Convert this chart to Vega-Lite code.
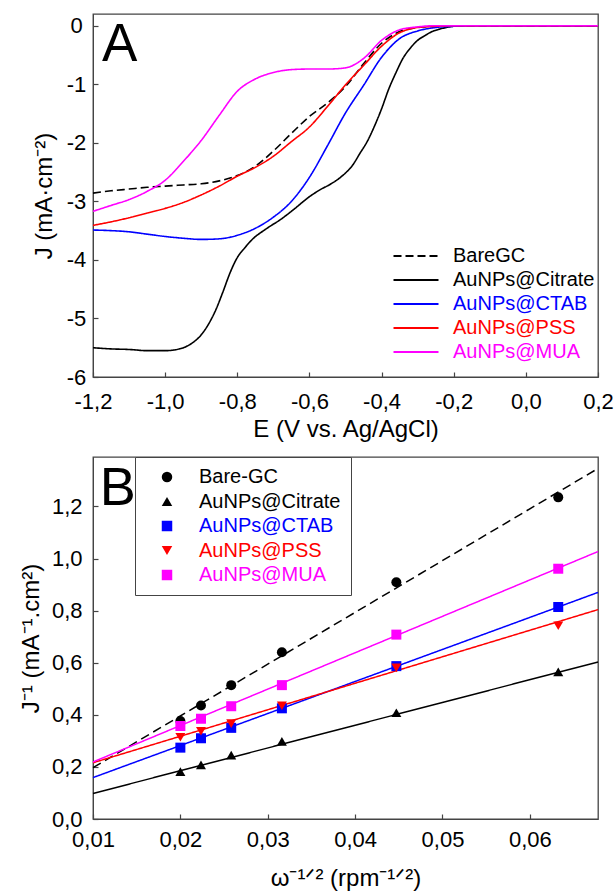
{
  "$schema": "https://vega.github.io/schema/vega-lite/v6.json",
  "padding": {"left": 18, "top": 13, "right": 4, "bottom": 0},
  "spacing": 13,
  "config": {
    "font": "Liberation Sans",
    "view": {"stroke": "#444", "strokeWidth": 1.3},
    "axis": {
      "grid": false, "domainColor": "#444", "tickColor": "#444", "tickSize": -5, "tickWidth": 1.2,
      "labelFont": "Liberation Sans", "labelFontSize": 22, "labelColor": "black", "labelFlush": false, "labelOverlap": false,
      "titleFont": "Liberation Sans", "titleFontSize": 24, "titleFontWeight": "normal", "titleColor": "black"
    },
    "legend": {"labelFont": "Liberation Sans", "labelFontSize": 20}
  },
  "resolve": {"scale": {"color": "independent", "shape": "independent", "strokeDash": "independent"}},
  "datasets": {
    "lsv": [
      {"curve": "BareGC", "E": -1.2, "J": -2.86}, {"curve": "BareGC", "E": -1.15, "J": -2.82}, {"curve": "BareGC", "E": -1.1, "J": -2.79}, {"curve": "BareGC", "E": -1.05, "J": -2.76}, {"curve": "BareGC", "E": -1.0, "J": -2.74}, {"curve": "BareGC", "E": -0.95, "J": -2.72}, {"curve": "BareGC", "E": -0.9, "J": -2.70}, {"curve": "BareGC", "E": -0.85, "J": -2.65}, {"curve": "BareGC", "E": -0.8, "J": -2.56}, {"curve": "BareGC", "E": -0.75, "J": -2.40}, {"curve": "BareGC", "E": -0.7, "J": -2.14}, {"curve": "BareGC", "E": -0.65, "J": -1.84}, {"curve": "BareGC", "E": -0.6, "J": -1.55}, {"curve": "BareGC", "E": -0.55, "J": -1.32}, {"curve": "BareGC", "E": -0.5, "J": -1.04}, {"curve": "BareGC", "E": -0.45, "J": -0.65}, {"curve": "BareGC", "E": -0.4, "J": -0.30}, {"curve": "BareGC", "E": -0.35, "J": -0.10}, {"curve": "BareGC", "E": -0.3, "J": -0.03}, {"curve": "BareGC", "E": -0.25, "J": -0.01}, {"curve": "BareGC", "E": -0.2, "J": 0}, {"curve": "BareGC", "E": 0.2, "J": 0},
      {"curve": "AuNPs@Citrate", "E": -1.2, "J": -5.50}, {"curve": "AuNPs@Citrate", "E": -1.15, "J": -5.52}, {"curve": "AuNPs@Citrate", "E": -1.1, "J": -5.53}, {"curve": "AuNPs@Citrate", "E": -1.05, "J": -5.55}, {"curve": "AuNPs@Citrate", "E": -1.0, "J": -5.55}, {"curve": "AuNPs@Citrate", "E": -0.96, "J": -5.52}, {"curve": "AuNPs@Citrate", "E": -0.93, "J": -5.44}, {"curve": "AuNPs@Citrate", "E": -0.9, "J": -5.28}, {"curve": "AuNPs@Citrate", "E": -0.88, "J": -5.10}, {"curve": "AuNPs@Citrate", "E": -0.86, "J": -4.86}, {"curve": "AuNPs@Citrate", "E": -0.84, "J": -4.55}, {"curve": "AuNPs@Citrate", "E": -0.82, "J": -4.22}, {"curve": "AuNPs@Citrate", "E": -0.8, "J": -3.96}, {"curve": "AuNPs@Citrate", "E": -0.78, "J": -3.80}, {"curve": "AuNPs@Citrate", "E": -0.76, "J": -3.66}, {"curve": "AuNPs@Citrate", "E": -0.72, "J": -3.47}, {"curve": "AuNPs@Citrate", "E": -0.68, "J": -3.31}, {"curve": "AuNPs@Citrate", "E": -0.64, "J": -3.12}, {"curve": "AuNPs@Citrate", "E": -0.6, "J": -2.92}, {"curve": "AuNPs@Citrate", "E": -0.57, "J": -2.80}, {"curve": "AuNPs@Citrate", "E": -0.54, "J": -2.70}, {"curve": "AuNPs@Citrate", "E": -0.51, "J": -2.57}, {"curve": "AuNPs@Citrate", "E": -0.48, "J": -2.38}, {"curve": "AuNPs@Citrate", "E": -0.46, "J": -2.18}, {"curve": "AuNPs@Citrate", "E": -0.44, "J": -1.98}, {"curve": "AuNPs@Citrate", "E": -0.42, "J": -1.72}, {"curve": "AuNPs@Citrate", "E": -0.4, "J": -1.42}, {"curve": "AuNPs@Citrate", "E": -0.38, "J": -1.08}, {"curve": "AuNPs@Citrate", "E": -0.36, "J": -0.80}, {"curve": "AuNPs@Citrate", "E": -0.34, "J": -0.55}, {"curve": "AuNPs@Citrate", "E": -0.32, "J": -0.38}, {"curve": "AuNPs@Citrate", "E": -0.3, "J": -0.25}, {"curve": "AuNPs@Citrate", "E": -0.28, "J": -0.17}, {"curve": "AuNPs@Citrate", "E": -0.26, "J": -0.10}, {"curve": "AuNPs@Citrate", "E": -0.24, "J": -0.06}, {"curve": "AuNPs@Citrate", "E": -0.22, "J": -0.03}, {"curve": "AuNPs@Citrate", "E": -0.2, "J": -0.01}, {"curve": "AuNPs@Citrate", "E": -0.15, "J": 0}, {"curve": "AuNPs@Citrate", "E": 0.2, "J": 0},
      {"curve": "AuNPs@CTAB", "E": -1.2, "J": -3.49}, {"curve": "AuNPs@CTAB", "E": -1.15, "J": -3.50}, {"curve": "AuNPs@CTAB", "E": -1.1, "J": -3.52}, {"curve": "AuNPs@CTAB", "E": -1.05, "J": -3.56}, {"curve": "AuNPs@CTAB", "E": -1.0, "J": -3.60}, {"curve": "AuNPs@CTAB", "E": -0.95, "J": -3.63}, {"curve": "AuNPs@CTAB", "E": -0.9, "J": -3.65}, {"curve": "AuNPs@CTAB", "E": -0.85, "J": -3.64}, {"curve": "AuNPs@CTAB", "E": -0.8, "J": -3.58}, {"curve": "AuNPs@CTAB", "E": -0.75, "J": -3.46}, {"curve": "AuNPs@CTAB", "E": -0.7, "J": -3.27}, {"curve": "AuNPs@CTAB", "E": -0.65, "J": -3.00}, {"curve": "AuNPs@CTAB", "E": -0.6, "J": -2.59}, {"curve": "AuNPs@CTAB", "E": -0.55, "J": -2.05}, {"curve": "AuNPs@CTAB", "E": -0.5, "J": -1.49}, {"curve": "AuNPs@CTAB", "E": -0.45, "J": -1.02}, {"curve": "AuNPs@CTAB", "E": -0.4, "J": -0.54}, {"curve": "AuNPs@CTAB", "E": -0.35, "J": -0.22}, {"curve": "AuNPs@CTAB", "E": -0.3, "J": -0.09}, {"curve": "AuNPs@CTAB", "E": -0.25, "J": -0.03}, {"curve": "AuNPs@CTAB", "E": -0.2, "J": -0.01}, {"curve": "AuNPs@CTAB", "E": -0.15, "J": 0}, {"curve": "AuNPs@CTAB", "E": 0.2, "J": 0},
      {"curve": "AuNPs@PSS", "E": -1.2, "J": -3.41}, {"curve": "AuNPs@PSS", "E": -1.15, "J": -3.35}, {"curve": "AuNPs@PSS", "E": -1.1, "J": -3.28}, {"curve": "AuNPs@PSS", "E": -1.05, "J": -3.20}, {"curve": "AuNPs@PSS", "E": -1.0, "J": -3.12}, {"curve": "AuNPs@PSS", "E": -0.95, "J": -3.02}, {"curve": "AuNPs@PSS", "E": -0.9, "J": -2.89}, {"curve": "AuNPs@PSS", "E": -0.85, "J": -2.74}, {"curve": "AuNPs@PSS", "E": -0.8, "J": -2.57}, {"curve": "AuNPs@PSS", "E": -0.75, "J": -2.42}, {"curve": "AuNPs@PSS", "E": -0.7, "J": -2.23}, {"curve": "AuNPs@PSS", "E": -0.65, "J": -1.98}, {"curve": "AuNPs@PSS", "E": -0.6, "J": -1.73}, {"curve": "AuNPs@PSS", "E": -0.55, "J": -1.38}, {"curve": "AuNPs@PSS", "E": -0.5, "J": -1.01}, {"curve": "AuNPs@PSS", "E": -0.45, "J": -0.68}, {"curve": "AuNPs@PSS", "E": -0.4, "J": -0.35}, {"curve": "AuNPs@PSS", "E": -0.35, "J": -0.12}, {"curve": "AuNPs@PSS", "E": -0.3, "J": -0.03}, {"curve": "AuNPs@PSS", "E": -0.25, "J": -0.01}, {"curve": "AuNPs@PSS", "E": -0.2, "J": 0}, {"curve": "AuNPs@PSS", "E": 0.2, "J": 0},
      {"curve": "AuNPs@MUA", "E": -1.2, "J": -3.17}, {"curve": "AuNPs@MUA", "E": -1.15, "J": -3.07}, {"curve": "AuNPs@MUA", "E": -1.1, "J": -2.97}, {"curve": "AuNPs@MUA", "E": -1.05, "J": -2.83}, {"curve": "AuNPs@MUA", "E": -1.0, "J": -2.64}, {"curve": "AuNPs@MUA", "E": -0.95, "J": -2.32}, {"curve": "AuNPs@MUA", "E": -0.9, "J": -1.96}, {"curve": "AuNPs@MUA", "E": -0.85, "J": -1.53}, {"curve": "AuNPs@MUA", "E": -0.8, "J": -1.12}, {"curve": "AuNPs@MUA", "E": -0.75, "J": -0.91}, {"curve": "AuNPs@MUA", "E": -0.7, "J": -0.80}, {"curve": "AuNPs@MUA", "E": -0.65, "J": -0.75}, {"curve": "AuNPs@MUA", "E": -0.6, "J": -0.74}, {"curve": "AuNPs@MUA", "E": -0.55, "J": -0.74}, {"curve": "AuNPs@MUA", "E": -0.5, "J": -0.72}, {"curve": "AuNPs@MUA", "E": -0.45, "J": -0.56}, {"curve": "AuNPs@MUA", "E": -0.4, "J": -0.25}, {"curve": "AuNPs@MUA", "E": -0.35, "J": -0.07}, {"curve": "AuNPs@MUA", "E": -0.3, "J": -0.02}, {"curve": "AuNPs@MUA", "E": -0.25, "J": 0}, {"curve": "AuNPs@MUA", "E": 0.2, "J": 0}
    ],
    "kl_points": [
      {"sample": "Bare-GC", "w": 0.02, "Jinv": 0.376}, {"sample": "Bare-GC", "w": 0.02236, "Jinv": 0.436}, {"sample": "Bare-GC", "w": 0.02582, "Jinv": 0.514}, {"sample": "Bare-GC", "w": 0.03162, "Jinv": 0.640}, {"sample": "Bare-GC", "w": 0.04472, "Jinv": 0.909}, {"sample": "Bare-GC", "w": 0.06325, "Jinv": 1.235},
      {"sample": "AuNPs@Citrate", "w": 0.02, "Jinv": 0.182}, {"sample": "AuNPs@Citrate", "w": 0.02236, "Jinv": 0.208}, {"sample": "AuNPs@Citrate", "w": 0.02582, "Jinv": 0.245}, {"sample": "AuNPs@Citrate", "w": 0.03162, "Jinv": 0.298}, {"sample": "AuNPs@Citrate", "w": 0.04472, "Jinv": 0.408}, {"sample": "AuNPs@Citrate", "w": 0.06325, "Jinv": 0.565},
      {"sample": "AuNPs@CTAB", "w": 0.02, "Jinv": 0.274}, {"sample": "AuNPs@CTAB", "w": 0.02236, "Jinv": 0.310}, {"sample": "AuNPs@CTAB", "w": 0.02582, "Jinv": 0.350}, {"sample": "AuNPs@CTAB", "w": 0.03162, "Jinv": 0.425}, {"sample": "AuNPs@CTAB", "w": 0.04472, "Jinv": 0.587}, {"sample": "AuNPs@CTAB", "w": 0.06325, "Jinv": 0.814},
      {"sample": "AuNPs@PSS", "w": 0.02, "Jinv": 0.314}, {"sample": "AuNPs@PSS", "w": 0.02236, "Jinv": 0.337}, {"sample": "AuNPs@PSS", "w": 0.02582, "Jinv": 0.366}, {"sample": "AuNPs@PSS", "w": 0.03162, "Jinv": 0.435}, {"sample": "AuNPs@PSS", "w": 0.04472, "Jinv": 0.580}, {"sample": "AuNPs@PSS", "w": 0.06325, "Jinv": 0.742},
      {"sample": "AuNPs@MUA", "w": 0.02, "Jinv": 0.357}, {"sample": "AuNPs@MUA", "w": 0.02236, "Jinv": 0.385}, {"sample": "AuNPs@MUA", "w": 0.02582, "Jinv": 0.433}, {"sample": "AuNPs@MUA", "w": 0.03162, "Jinv": 0.514}, {"sample": "AuNPs@MUA", "w": 0.04472, "Jinv": 0.708}, {"sample": "AuNPs@MUA", "w": 0.06325, "Jinv": 0.961}
    ],
    "kl_fit": [
      {"sample": "Bare-GC", "w": 0.01, "Jinv": 0.197}, {"sample": "Bare-GC", "w": 0.0678, "Jinv": 1.346},
      {"sample": "AuNPs@Citrate", "w": 0.01, "Jinv": 0.098}, {"sample": "AuNPs@Citrate", "w": 0.0678, "Jinv": 0.603},
      {"sample": "AuNPs@CTAB", "w": 0.01, "Jinv": 0.159}, {"sample": "AuNPs@CTAB", "w": 0.0678, "Jinv": 0.870},
      {"sample": "AuNPs@PSS", "w": 0.01, "Jinv": 0.216}, {"sample": "AuNPs@PSS", "w": 0.0678, "Jinv": 0.804},
      {"sample": "AuNPs@MUA", "w": 0.01, "Jinv": 0.219}, {"sample": "AuNPs@MUA", "w": 0.0678, "Jinv": 1.027}
    ],
    "panelA": [{"panel": "A"}],
    "panelB": [{"panel": "B"}]
  },
  "vconcat": [
    {
      "width": 505, "height": 363,
      "layer": [
        {
          "data": {"name": "lsv"},
          "mark": {"type": "line", "strokeWidth": 1.6, "interpolate": "monotone"},
          "encoding": {
            "x": {"field": "E", "type": "quantitative", "scale": {"domain": [-1.2, 0.2], "nice": false, "zero": false},
                  "axis": {"values": [-1.2, -1, -0.8, -0.6, -0.4, -0.2, 0, 0.2], "labelExpr": "replace(replace(format(datum.value, '.1f'), '.', ','), '\u2212', '-')", "title": "E (V vs. Ag/AgCl)", "labelPadding": 19, "titlePadding": 5}},
            "y": {"field": "J", "type": "quantitative", "scale": {"domain": [-6, 0.2], "nice": false, "zero": false},
                  "axis": {"values": [-6, -5, -4, -3, -2, -1, 0], "labelExpr": "replace(format(datum.value, 'd'), '\u2212', '-')", "labelAlign": "center", "labelPadding": 22, "title": "J (mA·cm⁻²)", "titlePadding": 10}},
            "color": {"field": "curve", "type": "nominal",
                      "scale": {"domain": ["BareGC", "AuNPs@Citrate", "AuNPs@CTAB", "AuNPs@PSS", "AuNPs@MUA"], "range": ["#000000", "#000000", "#0000ff", "#ff0000", "#ff00ff"]},
                      "legend": {"orient": "none", "legendX": 313, "legendY": 232, "title": null, "padding": 0, "symbolType": "M-3,0H3", "symbolSize": 225, "symbolStrokeWidth": 1.8, "labelOffset": 27, "rowPadding": 4, "labelFontSize": 20,
                                 "labelColor": {"expr": "datum.value == 'AuNPs@CTAB' ? '#0000ff' : datum.value == 'AuNPs@PSS' ? '#ff0000' : datum.value == 'AuNPs@MUA' ? '#ff00ff' : '#000000'"}}},
            "strokeDash": {"field": "curve", "type": "nominal",
                           "scale": {"domain": ["BareGC", "AuNPs@Citrate", "AuNPs@CTAB", "AuNPs@PSS", "AuNPs@MUA"], "range": [[8, 4], [1, 0], [1, 0], [1, 0], [1, 0]]},
                           "legend": {"orient": "none", "legendX": 313, "legendY": 232, "title": null, "padding": 0, "symbolType": "M-3,0H3", "symbolSize": 225, "symbolStrokeWidth": 1.8, "labelOffset": 27, "rowPadding": 4, "labelFontSize": 20,
                                      "labelColor": {"expr": "datum.value == 'AuNPs@CTAB' ? '#0000ff' : datum.value == 'AuNPs@PSS' ? '#ff0000' : datum.value == 'AuNPs@MUA' ? '#ff00ff' : '#000000'"}}}
          }
        },
        {
          "data": {"name": "panelA"},
          "mark": {"type": "text", "fontSize": 53, "align": "left", "baseline": "alphabetic", "color": "black"},
          "encoding": {"x": {"datum": -1.175}, "y": {"datum": -0.61}, "text": {"field": "panel"}}
        }
      ]
    },
    {
      "width": 505, "height": 362,
      "resolve": {"legend": {"color": "independent", "strokeDash": "independent", "shape": "independent"}},
      "layer": [
        {
          "data": {"name": "kl_fit"},
          "mark": {"type": "line", "strokeWidth": 1.5},
          "encoding": {
            "x": {"field": "w", "type": "quantitative", "scale": {"domain": [0.01, 0.0678], "nice": false, "zero": false},
                  "axis": {"values": [0.01, 0.02, 0.03, 0.04, 0.05, 0.06], "labelExpr": "replace(format(datum.value, '.2f'), '.', ',')", "title": "ω⁻¹ᐟ² (rpm⁻¹ᐟ²)", "labelPadding": 15, "titlePadding": 16}},
            "y": {"field": "Jinv", "type": "quantitative", "scale": {"domain": [0, 1.39], "nice": false, "zero": false},
                  "axis": {"values": [0, 0.2, 0.4, 0.6, 0.8, 1.0, 1.2], "labelExpr": "replace(format(datum.value, '.1f'), '.', ',')", "labelAlign": "right", "labelPadding": 16, "title": "J⁻¹ (mA⁻¹.cm²)", "titlePadding": 8}},
            "color": {"field": "sample", "type": "nominal", "legend": null,
                      "scale": {"domain": ["Bare-GC", "AuNPs@Citrate", "AuNPs@CTAB", "AuNPs@PSS", "AuNPs@MUA"], "range": ["#000000", "#000000", "#0000ff", "#ff0000", "#ff00ff"]}},
            "strokeDash": {"field": "sample", "type": "nominal", "legend": null,
                           "scale": {"domain": ["Bare-GC", "AuNPs@Citrate", "AuNPs@CTAB", "AuNPs@PSS", "AuNPs@MUA"], "range": [[9, 5], [1, 0], [1, 0], [1, 0], [1, 0]]}}
          }
        },
        {
          "data": {"name": "kl_points"},
          "mark": {"type": "point", "filled": true, "size": 100, "opacity": 1},
          "encoding": {
            "x": {"field": "w", "type": "quantitative"},
            "y": {"field": "Jinv", "type": "quantitative"},
            "color": {"field": "sample", "type": "nominal",
                      "legend": {"orient": "none", "legendX": 42, "legendY": 0, "title": null, "strokeColor": "#444", "fillColor": "white", "padding": 10, "symbolOffset": 12, "labelOffset": 22, "symbolSize": 110, "rowPadding": 4.5, "labelFontSize": 20,
                                 "labelColor": {"expr": "datum.value == 'AuNPs@CTAB' ? '#0000ff' : datum.value == 'AuNPs@PSS' ? '#ff0000' : datum.value == 'AuNPs@MUA' ? '#ff00ff' : '#000000'"}}},
            "shape": {"field": "sample", "type": "nominal",
                      "scale": {"domain": ["Bare-GC", "AuNPs@Citrate", "AuNPs@CTAB", "AuNPs@PSS", "AuNPs@MUA"], "range": ["circle", "triangle-up", "square", "triangle-down", "square"]},
                      "legend": {"orient": "none", "legendX": 42, "legendY": 0, "title": null, "strokeColor": "#444", "fillColor": "white", "padding": 10, "symbolOffset": 12, "labelOffset": 22, "symbolSize": 110, "rowPadding": 4.5, "labelFontSize": 20,
                                 "labelColor": {"expr": "datum.value == 'AuNPs@CTAB' ? '#0000ff' : datum.value == 'AuNPs@PSS' ? '#ff0000' : datum.value == 'AuNPs@MUA' ? '#ff00ff' : '#000000'"}}}
          }
        },
        {
          "data": {"name": "panelB"},
          "mark": {"type": "text", "fontSize": 54, "align": "left", "baseline": "alphabetic", "color": "black"},
          "encoding": {"x": {"datum": 0.01077}, "y": {"datum": 1.205}, "text": {"field": "panel"}}
        }
      ]
    }
  ]
}
